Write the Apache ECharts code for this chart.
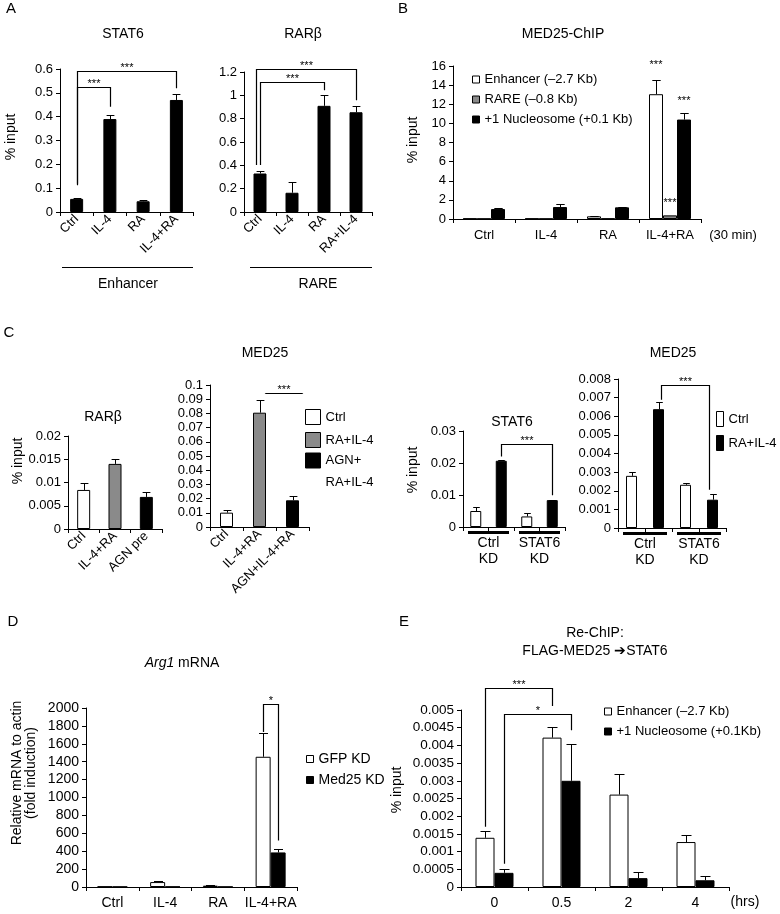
<!DOCTYPE html>
<html><head><meta charset="utf-8">
<script src="https://cdn.jsdelivr.net/npm/echarts@6/dist/echarts.min.js"></script>
<style>html,body{margin:0;padding:0;background:#fff}#c{width:780px;height:914px}</style>
</head><body><div id="c"></div>
<script>
// ---------------- DATA ----------------
// Panel A
const aStat6Cats = ['Ctrl', 'IL-4', 'RA', 'IL-4+RA'];
const aStat6 = [0.055, 0.39, 0.045, 0.47];
const aStat6Err = [0.058, 0.405, 0.052, 0.497];
const aStat6Range = [0, 0.6, 0.1];
const aStat6Sig = [[0, 0, 0.112, 1, 0, 0.442, 0.523, '***'], [0, 0, 0.119, 3, 0, 0.519, 0.593, '***']];
const aRarbCats = ['Ctrl', 'IL-4', 'RA', 'RA+IL-4'];
const aRarb = [0.33, 0.165, 0.91, 0.855];
const aRarbErr = [0.355, 0.26, 1.0, 0.905];
const aRarbRange = [0, 1.2, 0.2];
const aRarbSig = [[0, 0, 0.403, 2, 0, 1.044, 1.115, '***'], [0, -0.3, 0.403, 3, 0, 0.958, 1.223, '***']];
// Panel B
const bCats = ['Ctrl', 'IL-4', 'RA', 'IL-4+RA'];
const bEnhancer = [0.05, 0.05, 0.28, 13.05];
const bEnhancerErr = [null, null, 0.32, 14.5];
const bRare = [0.03, 0.03, 0.05, 0.38];
const bNucleosome = [1.04, 1.25, 1.22, 10.4];
const bNucleosomeErr = [1.15, 1.53, 1.29, 11.1];
const bRange = [0, 16, 2];
const bStars = [[3, 0, 16.4, '***'], [3, 2, 12.7, '***'], [3, 1, 2.0, '***']];
// Panel C (left)
const cRarbCats = ['Ctrl', 'IL-4+RA', 'AGN pre'];
const cRarb = [0.0084, 0.0140, 0.0069];
const cRarbErr = [0.0099, 0.0150, 0.0079];
const cRarbRange = [0, 0.02, 0.005];
const cMed25Cats = ['Ctrl', 'IL-4+RA', 'AGN+IL-4+RA'];
const cMed25 = [0.0101, 0.0805, 0.0188];
const cMed25Err = [0.0122, 0.0894, 0.0219];
const cMed25Range = [0, 0.1, 0.01];
const cMed25Sig = [[1, 0.45, 0.0941, 2, 0.75, 0.0941, 0.0941, '***']];
const cMed25Legend = ['Ctrl', 'RA+IL-4', 'AGN+\nRA+IL-4'];
// Panel C (right)
const cKdGroups = ['Ctrl\nKD', 'STAT6\nKD'];
const cKdConds = ['Ctrl', 'RA+IL-4'];
const cStat6KdCtrl = [0.0050, 0.0033];
const cStat6KdCtrlErr = [0.0061, 0.0045];
const cStat6KdTx = [0.0207, 0.0084];
const cStat6KdTxErr = [0.0208, 0.0085];
const cStat6KdRange = [0, 0.03, 0.01];
const cStat6KdSig = [[1, 0, 0.022, 3, 0, 0.0099, 0.0258, '***']];
const cMed25KdCtrl = [0.0028, 0.00232];
const cMed25KdCtrlErr = [0.00298, 0.00241];
const cMed25KdTx = [0.00638, 0.00152];
const cMed25KdTxErr = [0.00679, 0.00182];
const cMed25KdRange = [0, 0.008, 0.001];
const cMed25KdSig = [[1, 0.2, 0.00688, 3, -0.3, 0.00205, 0.00768, '***']];
// Panel D
const dCats = ['Ctrl', 'IL-4', 'RA', 'IL-4+RA'];
const dGfpKd = [5, 55, 15, 1455];
const dGfpKdErr = [null, 62, 18, 1725];
const dMed25Kd = [3, 4, 3, 386];
const dMed25KdErr = [null, null, null, 423];
const dRange = [0, 2000, 200];
const dSig = [[3, 0, 1733, 3, 1, 520, 2048, '*']];
// Panel E
const eCats = ['0', '0.5', '2', '4'];
const eEnhancer = [0.00139, 0.00422, 0.00261, 0.00127];
const eEnhancerErr = [0.00158, 0.00453, 0.00318, 0.00146];
const eNucleosome = [0.00040, 0.00300, 0.00025, 0.00019];
const eNucleosomeErr = [0.00051, 0.00403, 0.00042, 0.00030];
const eRange = [0, 0.005, 0.0005];
const eSig = [[0, 0, 0.0017, 1, 0, 0.00511, 0.00561, '***'], [0, 1, 0.00066, 1, 1, 0.00443, 0.00489, '*']];

// ---------------- LAYOUT / STYLE ----------------
const FONT = "'Liberation Sans', Arial, Helvetica, sans-serif";
const WHITE = '#ffffff', GREY = '#8a8a8a', BLACK = '#000000';
const grids = [
  {left: 60, top: 69, width: 133, height: 143},   // 0 A STAT6
  {left: 244, top: 72, width: 128, height: 140},  // 1 A RARb
  {left: 453, top: 66, width: 248, height: 153},  // 2 B
  {left: 68, top: 436, width: 94, height: 93},    // 3 C RARb
  {left: 210, top: 385, width: 99, height: 142},  // 4 C MED25
  {left: 463, top: 431, width: 102, height: 96},  // 5 C STAT6 KD
  {left: 618, top: 379, width: 108, height: 149}, // 6 C MED25 KD
  {left: 86, top: 708, width: 211, height: 179},  // 7 D
  {left: 461, top: 710, width: 268, height: 177}  // 8 E
].map(g => Object.assign({containLabel: false, outerBoundsMode: 'none'}, g));
const layouts = [
  {n: 1, bw: 13}, {n: 1, bw: 13}, {n: 3, bw: 14}, {n: 1, bw: 13}, {n: 1, bw: 13},
  {n: 1, bw: 11}, {n: 1, bw: 11}, {n: 2, bw: 15}, {n: 2, bw: 19}
];
const slotOffset = (g, slot) => (layouts[g].n === 1 ? slot : (slot - (layouts[g].n - 1) / 2)) * layouts[g].bw;

function xAxis(g, cats, label) {
  return {type: 'category', gridIndex: g, data: cats, boundaryGap: true,
    axisLine: {show: true, lineStyle: {color: '#000', width: 1}},
    axisTick: {show: true, length: 4, inside: false, interval: 0, lineStyle: {color: '#000'}},
    axisLabel: Object.assign({show: true, interval: 0, color: '#000', fontFamily: FONT, fontSize: 13, margin: 8}, label || {}),
    splitLine: {show: false}};
}
function yAxis(g, r, label) {
  return {type: 'value', gridIndex: g, min: r[0], max: r[1], interval: r[2],
    axisLine: {show: true, lineStyle: {color: '#000', width: 1}},
    axisTick: {show: true, length: 4, inside: false, lineStyle: {color: '#000'}},
    axisLabel: Object.assign({show: true, color: '#000', fontFamily: FONT, fontSize: 13, margin: 7,
      formatter: v => String(v)}, label || {}),
    splitLine: {show: false}};
}
function bars(g, name, vals, color, extra) {
  return Object.assign({type: 'bar', name: name, xAxisIndex: g, yAxisIndex: g, data: vals,
    barWidth: layouts[g].bw, barGap: '0%', silent: true, animation: false,
    itemStyle: {color: color, borderColor: '#000', borderWidth: 1}}, extra || {});
}
function errBars(g, vals, errs, slot) {
  const dx = slotOffset(g, slot);
  const cap = Math.min(layouts[g].bw * 0.6, 10);
  const data = [];
  vals.forEach((v, i) => { if (v != null && errs[i] != null) data.push([i, v, errs[i]]); });
  return {type: 'custom', xAxisIndex: g, yAxisIndex: g, z: 5, silent: true, animation: false, clip: false,
    encode: {x: 0, y: [1, 2]}, data: data,
    renderItem: function (params, api) {
      const a = api.coord([api.value(0), api.value(1)]);
      const b = api.coord([api.value(0), api.value(2)]);
      const x = Math.round(a[0] + dx) + 0.5;
      const yb = Math.round(b[1]) + 0.5;
      return {type: 'group', children: [
        {type: 'line', shape: {x1: x, y1: a[1], x2: x, y2: yb}, style: {stroke: '#000', lineWidth: 1}},
        {type: 'line', shape: {x1: x - cap / 2, y1: yb, x2: x + cap / 2, y2: yb}, style: {stroke: '#000', lineWidth: 1}}
      ]};
    }};
}
const spread = (arr, slot, n) => { const out = []; arr.forEach((v, i) => { for (let k = 0; k < n; k++) out.push(k === slot ? v : null); }); return out; };
const kdCats = [];
cKdGroups.forEach(gn => cKdConds.forEach(c => kdCats.push(gn.replace('\n', ' ') + ' / ' + c)));

const series = [
  // A
  bars(0, 'A1', aStat6, BLACK), errBars(0, aStat6, aStat6Err, 0),
  bars(1, 'A2', aRarb, BLACK), errBars(1, aRarb, aRarbErr, 0),
  // B
  bars(2, 'B|Enhancer (\u20132.7 Kb)', bEnhancer, WHITE),
  bars(2, 'B|RARE (\u20130.8 Kb)', bRare, GREY),
  bars(2, 'B|+1 Nucleosome (+0.1 Kb)', bNucleosome, BLACK),
  errBars(2, bEnhancer, bEnhancerErr, 0), errBars(2, bNucleosome, bNucleosomeErr, 2),
  // C left
  bars(3, 'C1', cRarb.map((v, i) => ({value: v, itemStyle: {color: [WHITE, GREY, BLACK][i]}})), BLACK),
  errBars(3, cRarb, cRarbErr, 0),
  bars(4, 'C2|' + cMed25Legend[0], [cMed25[0], null, null], WHITE, {barGap: '-100%'}),
  bars(4, 'C2|' + cMed25Legend[1], [null, cMed25[1], null], GREY, {barGap: '-100%'}),
  bars(4, 'C2|' + cMed25Legend[2], [null, null, cMed25[2]], BLACK, {barGap: '-100%'}),
  errBars(4, cMed25, cMed25Err, 0),
  // C right
  bars(5, 'C3|Ctrl', spread(cStat6KdCtrl, 0, 2), WHITE, {barGap: '-100%'}),
  bars(5, 'C3|RA+IL-4', spread(cStat6KdTx, 1, 2), BLACK, {barGap: '-100%'}),
  errBars(5, spread(cStat6KdCtrl, 0, 2), spread(cStat6KdCtrlErr, 0, 2), 0),
  errBars(5, spread(cStat6KdTx, 1, 2), spread(cStat6KdTxErr, 1, 2), 0),
  bars(6, 'C4|' + cKdConds[0], spread(cMed25KdCtrl, 0, 2), WHITE, {barGap: '-100%'}),
  bars(6, 'C4|' + cKdConds[1], spread(cMed25KdTx, 1, 2), BLACK, {barGap: '-100%'}),
  errBars(6, spread(cMed25KdCtrl, 0, 2), spread(cMed25KdCtrlErr, 0, 2), 0),
  errBars(6, spread(cMed25KdTx, 1, 2), spread(cMed25KdTxErr, 1, 2), 0),
  // D
  bars(7, 'D|GFP KD', dGfpKd, WHITE), bars(7, 'D|Med25 KD', dMed25Kd, BLACK),
  errBars(7, dGfpKd, dGfpKdErr, 0), errBars(7, dMed25Kd, dMed25KdErr, 1),
  // E
  bars(8, 'E|Enhancer (\u20132.7 Kb)', eEnhancer, WHITE), bars(8, 'E|+1 Nucleosome (+0.1Kb)', eNucleosome, BLACK),
  errBars(8, eEnhancer, eEnhancerErr, 0), errBars(8, eNucleosome, eNucleosomeErr, 1)
];

const rot = {rotate: 45, margin: 5, fontSize: 13};
const xAxes = [
  xAxis(0, aStat6Cats, rot), xAxis(1, aRarbCats, rot), xAxis(2, bCats, {margin: 10}),
  xAxis(3, cRarbCats, rot), xAxis(4, cMed25Cats, rot),
  xAxis(5, kdCats, {show: false}), xAxis(6, kdCats, {show: false}),
  xAxis(7, dCats, {margin: 9, fontSize: 14}), xAxis(8, eCats, {margin: 9, fontSize: 14})
];
const yAxes = [
  yAxis(0, aStat6Range), yAxis(1, aRarbRange), yAxis(2, bRange), yAxis(3, cRarbRange), yAxis(4, cMed25Range),
  yAxis(5, cStat6KdRange), yAxis(6, cMed25KdRange), yAxis(7, dRange, {fontSize: 14}), yAxis(8, eRange, {fontSize: 13.5})
];

const fmt = n => n.slice(n.indexOf('|') + 1);
const legendBase = {orient: 'vertical', icon: 'rect', selectedMode: false, formatter: fmt, padding: 0,
  itemStyle: {borderWidth: 1},
  textStyle: {fontFamily: FONT, fontSize: 13, color: '#000', lineHeight: 15}};
const legends = [
  Object.assign({}, legendBase, {left: 472, top: 72, itemWidth: 7, itemHeight: 7, itemGap: 5,
    data: ['B|Enhancer (\u20132.7 Kb)', 'B|RARE (\u20130.8 Kb)', 'B|+1 Nucleosome (+0.1 Kb)']}),
  Object.assign({}, legendBase, {left: 305, top: 409, itemWidth: 15, itemHeight: 15, itemGap: 7,
    data: ['C2|' + cMed25Legend[0], 'C2|' + cMed25Legend[1]]}),
  Object.assign({}, legendBase, {left: 305, top: 432, itemWidth: 15, itemHeight: 15,
    formatter: n => fmt(n).split('\n').map((s, i) => '{' + (i ? 'b' : 'a') + '|' + s + '}').join('\n'),
    textStyle: {fontFamily: FONT, fontSize: 13, color: '#000',
      rich: {a: {fontFamily: FONT, fontSize: 13, lineHeight: 37, padding: [22, 0, 0, 0]},
             b: {fontFamily: FONT, fontSize: 13, lineHeight: 22, padding: [7, 0, 0, 0]}}},
    data: ['C2|' + cMed25Legend[2]]}),
  Object.assign({}, legendBase, {left: 716, top: 411, itemWidth: 7, itemHeight: 15, itemGap: 8,
    data: ['C4|' + cKdConds[0], 'C4|' + cKdConds[1]]}),
  Object.assign({}, legendBase, {left: 306, top: 751, itemWidth: 7, itemHeight: 7, itemGap: 5,
    textStyle: {fontFamily: FONT, fontSize: 14, color: '#000', lineHeight: 16},
    data: ['D|GFP KD', 'D|Med25 KD']}),
  Object.assign({}, legendBase, {left: 604, top: 704, itemWidth: 7, itemHeight: 7, itemGap: 5,
    data: ['E|Enhancer (\u20132.7 Kb)', 'E|+1 Nucleosome (+0.1Kb)']})
];

const chart = echarts.init(document.getElementById('c'), null, {renderer: 'canvas'});
chart.setOption({
  animation: false, backgroundColor: '#ffffff',
  textStyle: {fontFamily: FONT},
  grid: grids, xAxis: xAxes, yAxis: yAxes, legend: legends, series: series
});

// ---------------- ANNOTATIONS ----------------
const G = [];
function txt(text, x, y, size, extra) {
  G.push(Object.assign({type: 'text', x: x, y: y, silent: true,
    style: Object.assign({text: text, font: (size || 14) + 'px ' + FONT, fill: '#000', textAlign: 'center', textVerticalAlign: 'middle'}, (extra && extra.style) || {})},
    extra && extra.rotation ? {rotation: extra.rotation} : {}));
}
function hline(x1, x2, y, w) {
  G.push({type: 'line', silent: true, shape: {x1: x1, y1: y, x2: x2, y2: y}, style: {stroke: '#000', lineWidth: w || 1}});
}
// panel letters
txt('A', 11, 9, 15); txt('B', 403, 9, 15); txt('C', 9, 333, 15); txt('D', 13, 622, 15); txt('E', 404, 622, 15);
// titles
txt('STAT6', 123, 34, 14); txt('RAR\u03b2', 303, 34, 14); txt('MED25-ChIP', 563, 34, 14);
txt('RAR\u03b2', 103, 417, 14); txt('MED25', 265, 353, 14); txt('STAT6', 512, 422, 14); txt('MED25', 673, 353, 14);
txt('{i|Arg1} mRNA', 182, 663, 14, {style: {rich: {i: {font: 'italic 14px ' + FONT, fill: '#000'}}}});
txt('Re-ChIP:', 595, 633, 14); txt('FLAG-MED25 \u2794STAT6', 595, 651, 14);
// y axis names
const R90 = Math.PI / 2;
txt('% input', 11, 137, 14, {rotation: R90}); txt('% input', 413, 140, 14, {rotation: R90});
txt('% input', 18, 461, 14, {rotation: R90}); txt('% input', 413, 470, 14, {rotation: R90});
txt('Relative mRNA to actin\n(fold induction)', 24, 773, 14, {rotation: R90, style: {lineHeight: 14}});
txt('% input', 397, 790, 14, {rotation: R90});
// group labels
hline(62, 193, 267.5); txt('Enhancer', 128, 284, 14);
hline(250, 372, 267.5); txt('RARE', 318, 284, 14);
txt('(30 min)', 733, 235, 13); txt('(hrs)', 745, 902, 14);

const P = (g, c, v) => chart.convertToPixel({gridIndex: g}, [c, v]);
// knockdown group underlines and labels
[5, 6].forEach(g => {
  cKdGroups.forEach((name, k) => {
    const a = P(g, 2 * k, 0), b = P(g, 2 * k + 1, 0);
    const half = (b[0] - a[0]) / 2;
    G.push({type: 'rect', silent: true, shape: {x: a[0] - half + 5, y: a[1] + 4, width: (b[0] - a[0]) + 2 * half - 10, height: 3}, style: {fill: '#000'}});
    txt(name, (a[0] + b[0]) / 2, a[1] + 24, 14, {style: {lineHeight: 16}});
  });
});
// significance brackets
[[0, aStat6Sig], [1, aRarbSig], [4, cMed25Sig], [5, cStat6KdSig], [6, cMed25KdSig], [7, dSig], [8, eSig]].forEach(([g, list]) => {
  list.forEach(s => {
    const [cl, sl, yl, cr, sr, yr, yt, mark] = s;
    const L = P(g, cl, yl), LT = P(g, cl, yt), R = P(g, cr, yr), RT = P(g, cr, yt);
    const xl = Math.round(L[0] + slotOffset(g, sl)) + 0.5, xr = Math.round(R[0] + slotOffset(g, sr)) + 0.5;
    const yTop = Math.round(LT[1]) + 0.5;
    G.push({type: 'polyline', silent: true, shape: {points: [[xl, L[1]], [xl, yTop], [xr, yTop], [xr, R[1]]]},
      style: {stroke: '#000', fill: null, lineWidth: 1.2}});
    txt(mark, (xl + xr) / 2, yTop - 4, 11);
  });
});
// stars without brackets (panel B)
bStars.forEach(([c, slot, v, mark]) => {
  const p = P(2, c, v);
  txt(mark, p[0] + slotOffset(2, slot), p[1] + 3, 11);
});
chart.setOption({graphic: {elements: G}});
</script></body></html>
